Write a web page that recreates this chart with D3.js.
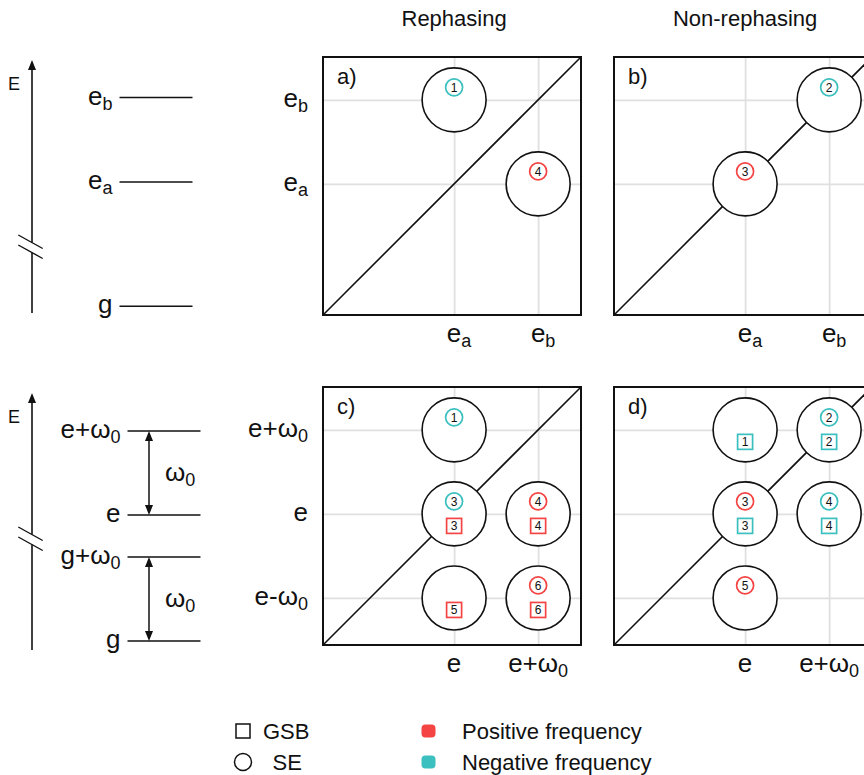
<!DOCTYPE html>
<html>
<head>
<meta charset="utf-8">
<script src="https://cdn.jsdelivr.net/npm/d3@7"></script>
<style>
  body { margin: 0; background: #fff; }
  svg { display: block; }
  text { font-family: "Liberation Sans", Arial, Helvetica, sans-serif; fill: #111; }
</style>
</head>
<body>
<svg id="fig" width="864" height="775"></svg>
<script>
// ---- chart content -------------------------------------------------------
const columnTitles = ["Rephasing", "Non-rephasing"];
const panelLetters = ["a)", "b)", "c)", "d)"];

// frequency axes, in units of the level spacing (e_a / e = 0)
const axisDomain = [-1.56, 1.51];
const twoLevelTicks = [{ v: 0, base: "e", sub: "a" }, { v: 1, base: "e", sub: "b" }];
const vibXTicks = [{ v: 0, base: "e" }, { v: 1, base: "e+ω", sub: "0" }];
const vibYTicks = [{ v: -1, base: "e-ω", sub: "0" }, { v: 0, base: "e" }, { v: 1, base: "e+ω", sub: "0" }];

// cross peaks: position, SE pathway number / sign, GSB pathway number / sign
const peaksA = [
  { x: 0, y: 1, se: 1, seF: "neg" },
  { x: 1, y: 0, se: 4, seF: "pos" }
];
const peaksB = [
  { x: 0, y: 0, se: 3, seF: "pos" },
  { x: 1, y: 1, se: 2, seF: "neg" }
];
const peaksC = [
  { x: 0, y: 1, se: 1, seF: "neg" },
  { x: 0, y: 0, se: 3, seF: "neg", gsb: 3, gsbF: "pos" },
  { x: 1, y: 0, se: 4, seF: "pos", gsb: 4, gsbF: "pos" },
  { x: 0, y: -1, gsb: 5, gsbF: "pos" },
  { x: 1, y: -1, se: 6, seF: "pos", gsb: 6, gsbF: "pos" }
];
const peaksD = [
  { x: 0, y: 1, gsb: 1, gsbF: "neg" },
  { x: 1, y: 1, se: 2, seF: "neg", gsb: 2, gsbF: "neg" },
  { x: 0, y: 0, se: 3, seF: "pos", gsb: 3, gsbF: "neg" },
  { x: 1, y: 0, se: 4, seF: "neg", gsb: 4, gsbF: "neg" },
  { x: 0, y: -1, se: 5, seF: "pos" }
];

// energy level diagrams
const twoLevels = [{ E: 1, base: "e", sub: "b" }, { E: 0, base: "e", sub: "a" }, { E: -1.47, base: "g" }];
const vibLevels = [{ E: 1, base: "e+ω", sub: "0" }, { E: 0, base: "e" }, { E: -0.5, base: "g+ω", sub: "0" }, { E: -1.5, base: "g" }];
const vibQuanta = [{ from: 0, to: 1 }, { from: -1.5, to: -0.5 }];

// legends
const legendShapes = [{ shape: "square", label: "GSB" }, { shape: "circle", label: "SE" }];
const legendFreq = [{ key: "pos", label: "Positive frequency" }, { key: "neg", label: "Negative frequency" }];
const freqColor = { pos: "#f44444", neg: "#3cbfbf" };

// ---- drawing ---------------------------------------------------------------
const svg = d3.select("#fig");
const INK = "#111";
const SIZE = 258;
const PEAK_R = 32;
const FS_TICK = 26, FS_SUB = 18;

// text with an optional subscript
function richText(parent, d, fs, subFs) {
  const t = parent.append("text").attr("font-size", fs);
  t.append("tspan").attr("class", "base").text(d.base);
  if (d.sub) t.append("tspan").attr("font-size", subFs).attr("dy", 5).text(d.sub);
  return t;
}
function baseWidth(t) { return t.select("tspan.base").node().getComputedTextLength(); }

function marker(g, cx, cy, shape, n, f) {
  const m = g.append("g").attr("transform", `translate(${cx},${cy})`);
  if (shape === "circle") {
    m.append("circle").attr("r", 8.5).attr("fill", "#fff")
      .attr("stroke", freqColor[f]).attr("stroke-width", 1.7);
  } else {
    m.append("rect").attr("x", -7.5).attr("y", -7.5).attr("width", 15).attr("height", 15)
      .attr("fill", "#fff").attr("stroke", freqColor[f]).attr("stroke-width", 1.7);
  }
  m.append("text").attr("font-size", 12).attr("text-anchor", "middle")
    .attr("dy", "0.36em").text(n);
}

function drawPanel(left, top, xTicks, yTicks, peaks, letter, showYLabels) {
  const g = svg.append("g").attr("transform", `translate(${left},${top})`);
  const x = d3.scaleLinear().domain(axisDomain).range([0, SIZE]);
  const y = d3.scaleLinear().domain(axisDomain).range([SIZE, 0]);

  // grid
  const gx = g.append("g").attr("transform", `translate(0,${SIZE})`)
    .call(d3.axisBottom(x).tickValues(xTicks.map(d => d.v)).tickSize(-SIZE).tickFormat(""));
  const gy = g.append("g")
    .call(d3.axisLeft(y).tickValues(yTicks.map(d => d.v)).tickSize(-SIZE).tickFormat(""));
  [gx, gy].forEach(a => {
    a.select(".domain").remove();
    a.selectAll("line").attr("stroke", "#e0e0e0").attr("stroke-width", 1.8);
  });

  // diagonal
  g.append("line")
    .attr("x1", x(axisDomain[0])).attr("y1", y(axisDomain[0]))
    .attr("x2", x(axisDomain[1])).attr("y2", y(axisDomain[1]))
    .attr("stroke", INK).attr("stroke-width", 1.6);

  // frame
  g.append("rect").attr("width", SIZE).attr("height", SIZE)
    .attr("fill", "none").attr("stroke", INK).attr("stroke-width", 2);

  // peaks
  peaks.forEach(p => {
    const cx = x(p.x), cy = y(p.y);
    g.append("circle").attr("cx", cx).attr("cy", cy).attr("r", PEAK_R)
      .attr("fill", "#fff").attr("stroke", INK).attr("stroke-width", 1.6);
    if (p.se) marker(g, cx, cy - 12.5, "circle", p.se, p.seF);
    if (p.gsb) marker(g, cx, cy + 12, "square", p.gsb, p.gsbF);
  });

  // tick labels
  xTicks.forEach(d => {
    const t = richText(g, d, FS_TICK, FS_SUB).attr("y", SIZE + 27);
    const w = d.base.length === 1 ? baseWidth(t) : t.node().getComputedTextLength();
    t.attr("x", x(d.v) - w / 2);
  });
  if (showYLabels) {
    yTicks.forEach(d => {
      richText(g, d, FS_TICK, FS_SUB)
        .attr("x", -15).attr("y", y(d.v) + 7).attr("text-anchor", "end");
    });
  }

  g.append("text").attr("x", 14).attr("y", 27).attr("font-size", 22).text(letter);
  return x;
}

const colLeft = [323, 614];
const rowTop = [57, 387];
const xa = drawPanel(colLeft[0], rowTop[0], twoLevelTicks, twoLevelTicks, peaksA, panelLetters[0], true);
const xb = drawPanel(colLeft[1], rowTop[0], twoLevelTicks, twoLevelTicks, peaksB, panelLetters[1], false);
drawPanel(colLeft[0], rowTop[1], vibXTicks, vibYTicks, peaksC, panelLetters[2], true);
drawPanel(colLeft[1], rowTop[1], vibXTicks, vibYTicks, peaksD, panelLetters[3], false);

// column titles
[xa, xb].forEach((sc, i) => {
  svg.append("text").attr("x", colLeft[i] + sc(0)).attr("y", 26)
    .attr("text-anchor", "middle").attr("font-size", 22).text(columnTitles[i]);
});

// ---- energy level diagrams -------------------------------------------------
function drawLevels(levels, yScale, axisTop, axisBottom, breakY, lineX0, lineX1, quanta) {
  const g = svg.append("g");
  const ax = 32;
  // energy axis with a break
  const brk = [breakY - 5, breakY + 5];
  g.append("line").attr("x1", ax).attr("x2", ax).attr("y1", axisTop + 8).attr("y2", brk[0])
    .attr("stroke", INK).attr("stroke-width", 1.6);
  g.append("line").attr("x1", ax).attr("x2", ax).attr("y1", brk[1]).attr("y2", axisBottom)
    .attr("stroke", INK).attr("stroke-width", 1.6);
  g.append("path").attr("d", `M${ax},${axisTop} L${ax - 4},${axisTop + 10} L${ax + 4},${axisTop + 10} Z`)
    .attr("fill", INK);
  brk.forEach(b => {
    g.append("line").attr("x1", ax - 13.7).attr("y1", b - 7.5).attr("x2", ax + 10.7).attr("y2", b + 6)
      .attr("stroke", INK).attr("stroke-width", 1.4);
  });
  g.append("text").attr("x", 8).attr("y", axisTop + 30).attr("font-size", 18).text("E");

  // levels
  levels.forEach(d => {
    const yy = yScale(d.E);
    g.append("line").attr("x1", lineX0).attr("x2", lineX1).attr("y1", yy).attr("y2", yy)
      .attr("stroke", INK).attr("stroke-width", 1.6);
    richText(g, d, FS_TICK, FS_SUB).attr("x", lineX0 - 7).attr("y", yy + 7).attr("text-anchor", "end");
  });

  // vibrational quanta
  (quanta || []).forEach(q => {
    const y0 = yScale(q.from), y1 = yScale(q.to), qx = 149;
    g.append("line").attr("x1", qx).attr("x2", qx).attr("y1", y1 + 6).attr("y2", y0 - 6)
      .attr("stroke", INK).attr("stroke-width", 1.5);
    g.append("path").attr("d", `M${qx},${y1} L${qx - 4},${y1 + 10} L${qx + 4},${y1 + 10} Z`).attr("fill", INK);
    g.append("path").attr("d", `M${qx},${y0} L${qx - 4},${y0 - 10} L${qx + 4},${y0 - 10} Z`).attr("fill", INK);
    richText(g, { base: "ω", sub: "0" }, FS_TICK, FS_SUB)
      .attr("x", 165).attr("y", (y0 + y1) / 2 + 8);
  });
}

const yTwo = d3.scaleLinear().domain([0, 1]).range([182, 97.5]);
const yVib = d3.scaleLinear().domain([0, 1]).range([515, 431]);
drawLevels(twoLevels, yTwo, 60, 313, 247.5, 119.5, 192.5, null);
drawLevels(vibLevels, yVib, 393, 650, 539.5, 127.5, 200.5, vibQuanta);

// ---- legends -----------------------------------------------------------------
const legY = [731, 762];
const shapeTextX = [263, 272.5];
legendShapes.forEach((d, i) => {
  if (d.shape === "square") {
    svg.append("rect").attr("x", 236).attr("y", legY[i] - 7).attr("width", 14).attr("height", 14)
      .attr("fill", "none").attr("stroke", INK).attr("stroke-width", 1.5);
  } else {
    svg.append("circle").attr("cx", 243).attr("cy", legY[i]).attr("r", 8.5)
      .attr("fill", "none").attr("stroke", INK).attr("stroke-width", 1.5);
  }
  svg.append("text").attr("x", shapeTextX[i]).attr("y", legY[i] + 7.5)
    .attr("font-size", 22).text(d.label);
});
legendFreq.forEach((d, i) => {
  svg.append("rect").attr("x", 421.5).attr("y", legY[i] - 6.5).attr("width", 14).attr("height", 13)
    .attr("rx", 4).attr("fill", freqColor[d.key]);
  svg.append("text").attr("x", 462).attr("y", legY[i] + 7.5)
    .attr("font-size", 22).text(d.label);
});
</script>
</body>
</html>
